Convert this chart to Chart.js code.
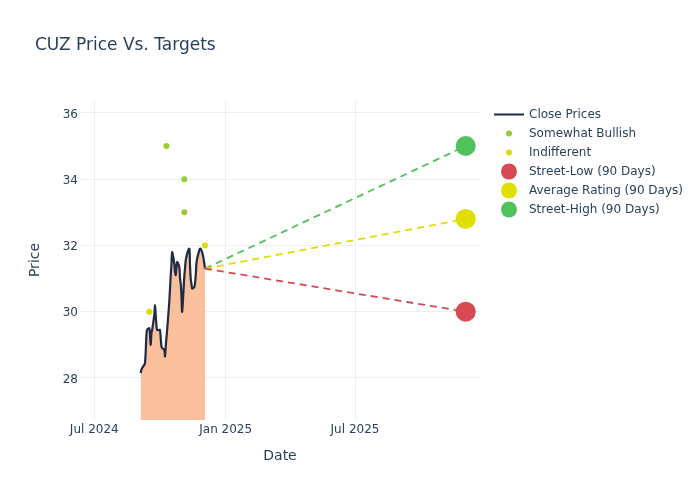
<!DOCTYPE html>
<html><head><meta charset="utf-8">
<script src="https://cdn.jsdelivr.net/npm/chart.js@4.4.1/dist/chart.umd.min.js"></script>
<style>html,body{margin:0;padding:0;background:#fff}#wrap{width:700px;height:500px}</style>
</head><body><div id="wrap"><canvas id="c" width="700" height="500"></canvas></div>
<script>
// x values are days since 2024-07-01
const priceDates = [65,66,67,70,71,72,73,74,77,78,79,80,81,84,85,86,87,88,91,
  92,93,94,95,98,99,100,101,102,105,106,107,108,109,112,113,114,115,116,119,120,121,122,
  123,126,127,128,129,130,133,134,135,136,137,140,141,142,143,144,147,148,149,151,153,155];
const closePrices = [28.15,28.25,28.3,28.4,28.45,28.8,29.3,29.45,29.5,29.3,29.0,29.35,29.45,29.9,30.2,29.9,29.6,29.45,29.45,
  29.45,29.2,28.95,28.9,28.85,28.65,28.95,29.2,29.45,30.3,30.7,31.1,31.4,31.8,31.45,31.2,31.1,31.3,31.5,31.35,31.0,30.85,30.5,
  30.0,31.05,31.3,31.55,31.65,31.75,31.9,31.4,31.0,30.85,30.7,30.75,30.85,31.1,31.45,31.6,31.85,31.9,31.9,31.8,31.6,31.3];
const bullishDates = [101, 126, 126];
const bullishTargets = [35, 34, 33];
const indifferentDates = [77, 155];
const indifferentTargets = [30, 32];
const targetDate = 520;
const streetLow = 30;
const averageRating = 32.8;
const streetHigh = 35;
const xTickValues = [0, 184, 365];
const xTickLabels = ['Jul 2024', 'Jan 2025', 'Jul 2025'];
const yTickValues = [28, 30, 32, 34, 36];

const TXT = '#2a3f5f';
const GRID = '#ebf0f8';
const C_LINE = '#1f2a44';
const C_BULL = '#9acd32';
const C_IND = '#dddd00';
const C_LOW = '#d84a53';
const C_AVG = '#dfdf00';
const C_HIGH = '#4fc35a';
Chart.defaults.font.family = "'DejaVu Sans', sans-serif";
Chart.defaults.color = TXT;

const lastD = priceDates[priceDates.length - 1];
const lastP = closePrices[closePrices.length - 1];
const pts = (xs, ys) => xs.map((x, i) => ({x: x, y: ys[i]}));

const legendItems = [
  {label: 'Close Prices', kind: 'line', color: C_LINE},
  {label: 'Somewhat Bullish', r: 3, color: C_BULL},
  {label: 'Indifferent', r: 3, color: C_IND},
  {label: 'Street-Low (90 Days)', r: 8, color: C_LOW},
  {label: 'Average Rating (90 Days)', r: 8, color: C_AVG},
  {label: 'Street-High (90 Days)', r: 8, color: C_HIGH}
];

const deco = {
  id: 'deco',
  afterDraw(chart) {
    const ctx = chart.ctx;
    ctx.save();
    ctx.fillStyle = TXT;
    ctx.font = "17px 'DejaVu Sans', sans-serif";
    ctx.textBaseline = 'middle';
    ctx.textAlign = 'left';
    ctx.fillText('CUZ Price Vs. Targets', 35, 45.5);
    ctx.font = "12px 'DejaVu Sans', sans-serif";
    legendItems.forEach((it, i) => {
      const y = 114.5 + i * 19;
      if (it.kind === 'line') {
        ctx.strokeStyle = it.color; ctx.lineWidth = 2;
        ctx.beginPath(); ctx.moveTo(494, y); ctx.lineTo(524, y); ctx.stroke();
      } else {
        ctx.fillStyle = it.color;
        ctx.beginPath(); ctx.arc(509, y, it.r, 0, Math.PI * 2); ctx.fill();
      }
      ctx.fillStyle = TXT;
      ctx.fillText(it.label, 529, y + 0.5);
    });
    ctx.restore();
  }
};

new Chart(document.getElementById('c'), {
  type: 'scatter',
  data: {
    datasets: [
      {label: 'Close Prices', data: pts(priceDates, closePrices), showLine: true, borderColor: C_LINE, borderWidth: 2.2,
        backgroundColor: 'rgba(250,185,145,0.9)', fill: 'start', pointRadius: 0, tension: 0.3, order: 5},
      {label: 'low', data: [{x: lastD, y: lastP}, {x: targetDate, y: streetLow}], showLine: true, borderColor: C_LOW,
        borderWidth: 1.8, borderDash: [7, 5], pointRadius: 0, order: 4},
      {label: 'avg', data: [{x: lastD, y: lastP}, {x: targetDate, y: averageRating}], showLine: true, borderColor: C_AVG,
        borderWidth: 1.8, borderDash: [7, 5], pointRadius: 0, order: 4},
      {label: 'high', data: [{x: lastD, y: lastP}, {x: targetDate, y: streetHigh}], showLine: true, borderColor: C_HIGH,
        borderWidth: 1.8, borderDash: [7, 5], pointRadius: 0, order: 4},
      {label: 'Somewhat Bullish', data: pts(bullishDates, bullishTargets), pointRadius: 3, backgroundColor: C_BULL, borderWidth: 0, order: 2},
      {label: 'Indifferent', data: pts(indifferentDates, indifferentTargets), pointRadius: 3, backgroundColor: C_IND, borderWidth: 0, order: 2},
      {label: 'Street-Low', data: [{x: targetDate, y: streetLow}], pointRadius: 10, backgroundColor: C_LOW, borderWidth: 0, order: 1},
      {label: 'Average', data: [{x: targetDate, y: averageRating}], pointRadius: 10, backgroundColor: C_AVG, borderWidth: 0, order: 1},
      {label: 'Street-High', data: [{x: targetDate, y: streetHigh}], pointRadius: 10, backgroundColor: C_HIGH, borderWidth: 0, order: 1}
    ]
  },
  options: {
    responsive: false,
    animation: false,
    layout: {padding: {top: 100, right: 220, left: 0, bottom: 0}},
    plugins: {legend: {display: false}, tooltip: {enabled: false}, title: {display: false}},
    scales: {
      x: {
        type: 'linear', min: -20, max: 540,
        afterBuildTicks: (s) => { s.ticks = xTickValues.map(v => ({value: v})); },
        afterFit: (s) => { s.height = 80; },
        ticks: {callback: (v) => xTickLabels[xTickValues.indexOf(v)], padding: 3, maxRotation: 0, autoSkip: false, font: {size: 12}, color: TXT},
        grid: {color: GRID, lineWidth: 1, drawTicks: false},
        border: {display: false},
        title: {display: true, text: 'Date', font: {size: 14}, color: TXT, padding: {top: 0, bottom: 35.6}}
      },
      y: {
        type: 'linear', min: 26.73, max: 36.39,
        afterBuildTicks: (s) => { s.ticks = yTickValues.map(v => ({value: v})); },
        afterFit: (s) => { s.width = 80; },
        ticks: {padding: 2, labelOffset: 1.5, font: {size: 12}, color: TXT},
        grid: {color: GRID, lineWidth: 1, drawTicks: false},
        border: {display: false},
        title: {display: true, text: 'Price', font: {size: 14}, color: TXT, padding: {top: 26.6, bottom: 0}}
      }
    }
  },
  plugins: [deco]
});
</script></body></html>
